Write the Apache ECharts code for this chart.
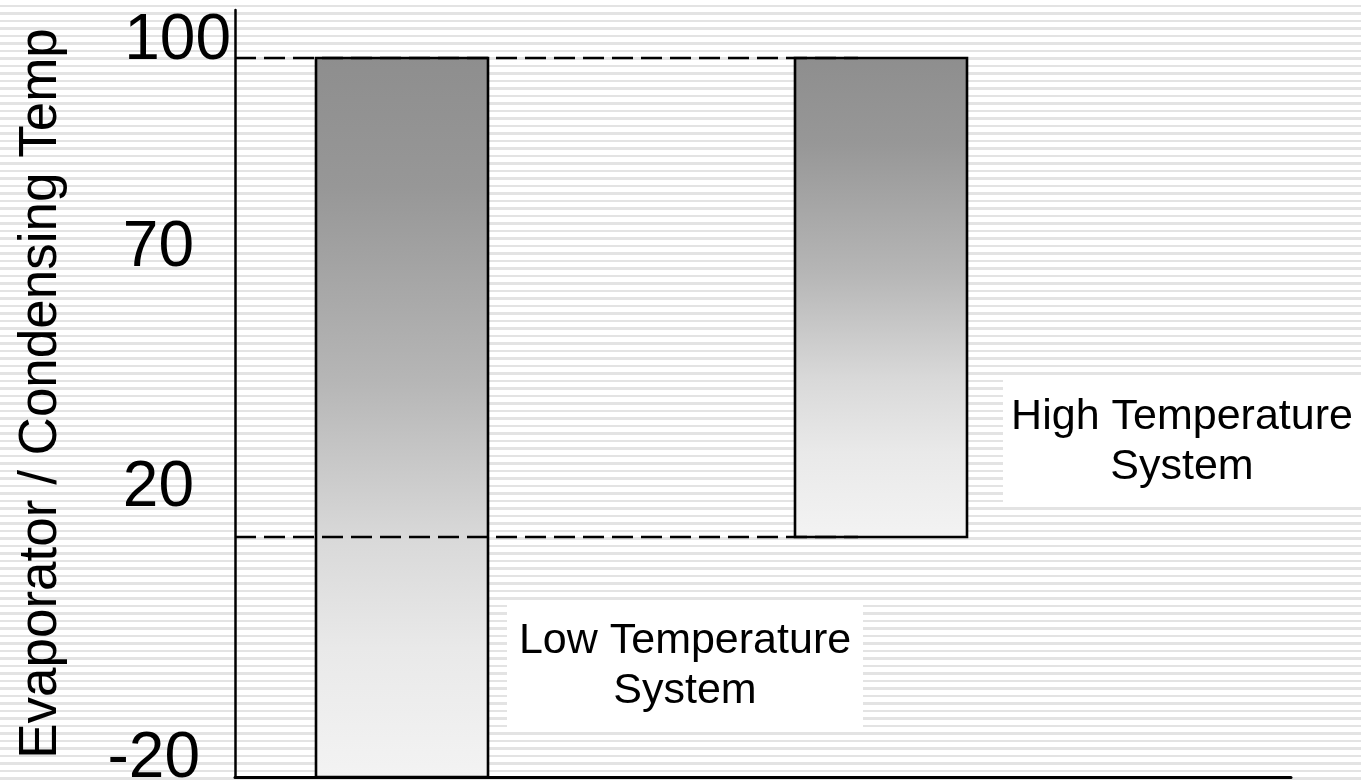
<!DOCTYPE html>
<html>
<head>
<meta charset="utf-8">
<script src="https://cdn.jsdelivr.net/npm/echarts@6/dist/echarts.min.js"></script>
<style>
  html, body { margin: 0; padding: 0; }
  body {
    width: 1361px; height: 784px; overflow: hidden;
    background: repeating-linear-gradient(180deg, #ffffff 0px, #ffffff 5px, #e3e3e3 5px, #e3e3e3 7.5px);
  }
  #chart { width: 1361px; height: 784px; }
</style>
</head>
<body>
<div id="chart"></div>
<script>
// ---- data ----
const categories = ['Low Temperature\nSystem', 'High Temperature\nSystem'];
const evaporatorTemps = [-20, 20];   // bottom of each bar
const condensingTemps = [100, 100];  // top of each bar
const referenceTemps = [100, 20];    // dashed guide lines
const tickLabels = [100, 70, 20, -20];
const axisTitle = 'Evaporator / Condensing Temp';

// ---- layout / style (not data) ----
const FONT = '"Liberation Sans", Arial, sans-serif';
const X_MIN = -0.3486, X_MAX = 1.856, BAR_W = 0.359, DASH_END = 0.952;
// per-label nudges to mimic the original slide's hand-placed labels: [padTop, padRight, padBottom]
const labelPad = { '100': [0, 4, 34], '70': [22, 41, 0], '20': [0, 41, 98], '-20': [0, 35, 36] };
const rich = {};
Object.keys(labelPad).forEach(k => {
  const p = labelPad[k];
  rich['v' + k.replace('-', 'm')] = { fontSize: 64, fontFamily: FONT, color: '#000', padding: [p[0], p[1], p[2], 0] };
});

function barGradient() {
  return new echarts.graphic.LinearGradient(0, 0, 0, 1, [
    { offset: 0, color: '#8e8e8e' },
    { offset: 0.18, color: '#979797' },
    { offset: 0.45, color: '#b6b6b6' },
    { offset: 0.67, color: '#d9d9d9' },
    { offset: 0.82, color: '#e9e9e9' },
    { offset: 1, color: '#f3f3f3' }
  ]);
}

const chart = echarts.init(document.getElementById('chart'), null, { renderer: 'canvas' });

const option = {
  backgroundColor: 'transparent',
  animation: false,
  grid: { left: 235, right: 70, top: 10, bottom: 7, containLabel: false, outerBoundsMode: 'none' },
  xAxis: {
    type: 'value', min: X_MIN, max: X_MAX,
    axisLine: { show: true, onZero: false, lineStyle: { color: '#000', width: 3 } },
    axisTick: { show: false }, axisLabel: { show: false }, splitLine: { show: false }
  },
  yAxis: {
    type: 'value', min: -20, max: 108,
    name: axisTitle, nameLocation: 'middle', nameRotate: 90, nameGap: 167,
    nameTextStyle: { fontSize: 53, fontFamily: FONT, color: '#000' },
    axisLine: { show: true, onZero: false, lineStyle: { color: '#000', width: 2.5 } },
    axisTick: { show: false }, splitLine: { show: false },
    axisLabel: {
      customValues: tickLabels,
      margin: 0,
      formatter: v => '{v' + String(v).replace('-', 'm') + '|' + v + '}',
      rich: rich
    }
  },
  series: [
    {
      type: 'custom',
      data: categories.map((c, i) => [i, evaporatorTemps[i], condensingTemps[i]]),
      renderItem: function (params, api) {
        const i = api.value(0);
        const top = api.coord([i, api.value(2)]);
        const bot = api.coord([i, api.value(1)]);
        const w = Math.round(api.size([BAR_W, 0])[0]);
        const x0 = Math.round(top[0] - w / 2), y0 = Math.round(top[1]), y1 = Math.round(bot[1]);
        return {
          type: 'rect',
          shape: { x: x0, y: y0, width: w, height: y1 - y0 },
          style: { fill: barGradient(), stroke: '#000', lineWidth: 2.6 }
        };
      },
      z: 1
    },
    {
      type: 'custom',
      silent: true,
      zlevel: 1,
      data: referenceTemps.map(v => [v]),
      renderItem: function (params, api) {
        const v = api.value(0);
        const a = api.coord([X_MIN, v]);
        const b = api.coord([DASH_END, v]);
        const y = Math.round(a[1]);
        return {
          type: 'line',
          shape: { x1: a[0], y1: y, x2: b[0], y2: y },
          style: { stroke: '#000', lineWidth: 2.6, lineDash: [21, 8] }
        };
      },
      encode: { y: 0 },
      z: 5
    }
  ],
  graphic: [
    {
      type: 'group', left: 507, top: 603, z: 10,
      children: [
        { type: 'rect', shape: { x: 0, y: 0, width: 356, height: 124 }, style: { fill: '#fff' } },
        { type: 'text', x: 178, y: 63, style: { text: categories[0], fontSize: 43, fontFamily: FONT, fill: '#000', align: 'center', verticalAlign: 'middle', lineHeight: 50 } }
      ]
    },
    {
      type: 'group', left: 1003, top: 380, z: 10,
      children: [
        { type: 'rect', shape: { x: 0, y: 0, width: 358, height: 123 }, style: { fill: '#fff' } },
        { type: 'text', x: 179, y: 62, style: { text: categories[1], fontSize: 43, fontFamily: FONT, fill: '#000', align: 'center', verticalAlign: 'middle', lineHeight: 50 } }
      ]
    }
  ]
};
chart.setOption(option);
</script>
</body>
</html>
